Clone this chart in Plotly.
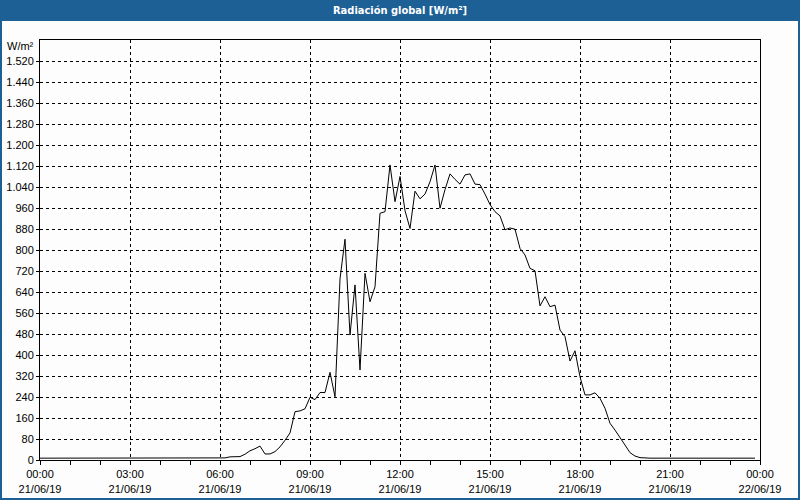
import pandas as pd
import plotly.graph_objects as go

title_text = "Radiación global [W/m²]"
unit_label = "W/m²"

# 10-minute values, 21/06/19 00:00 .. 23:50 (W/m²)
radiation = [
    7, 7, 7, 7, 7, 7,            # 00
    7, 7, 7, 7, 7, 7,            # 01
    7, 7, 7, 7, 7, 7,            # 02
    7, 7, 7, 7, 7, 7,            # 03
    7, 7, 7, 7, 7, 7,            # 04
    7, 7, 7, 7, 7, 7,            # 05
    7, 8, 12, 12, 13, 22,        # 06
    35, 43, 53, 23, 23, 32,      # 07
    50, 75, 103, 184, 187, 195,  # 08
    239, 230, 257, 257, 334, 241,  # 09
    690, 841, 476, 667, 343, 711,  # 10
    603, 660, 940, 946, 1124, 984,  # 11
    1080, 950, 882, 1024, 995, 1013,  # 12
    1060, 1124, 959, 1030, 1090, 1069,  # 13
    1051, 1086, 1090, 1051, 1049, 1013,  # 14
    973, 946, 930, 877, 884, 879,  # 15
    806, 781, 730, 721, 587, 622,  # 16
    584, 590, 495, 470, 377, 416,  # 17
    317, 248, 248, 256, 235, 197,  # 18
    140, 114, 83, 57, 28, 15,    # 19
    9, 7, 7, 7, 7, 7,            # 20
    7, 7, 7, 7, 7, 7,            # 21
    7, 7, 7, 7, 7, 7,            # 22
    7, 7, 7, 7, 7, 7,            # 23
]
times = pd.date_range("2019-06-21 00:00", periods=len(radiation), freq="10min")

x_tick_times = pd.date_range("2019-06-21 00:00", "2019-06-22 00:00", freq="3h")
x_tick_text = [t.strftime("%H:%M") + "<br>" + t.strftime("%d/%m/%y") for t in x_tick_times]

y_tick_vals = list(range(0, 1600, 80))


def fmt(v):
    return f"{v:,}".replace(",", ".")


y_tick_text = [fmt(v) for v in y_tick_vals]

W, H = 800, 500
ML, MR, MT, MB = 40, 40, 40, 40
PW, PH = W - ML - MR, H - MT - MB


def px_x(p):
    return (p - ML) / PW


def px_y(p):
    return (H - MB - p) / PH


BLUE = "#1d6096"
FONT = "Liberation Sans, Arial, sans-serif"
TITLE_FONT = "DejaVu Sans Condensed, Liberation Sans Narrow, Liberation Sans, sans-serif"

fig = go.Figure()
fig.add_trace(go.Scatter(
    x=times, y=radiation, mode="lines",
    line=dict(color="black", width=1), hoverinfo="skip", showlegend=False,
))

fig.update_layout(
    width=W, height=H,
    margin=dict(l=ML, r=MR, t=MT, b=MB, autoexpand=False),
    paper_bgcolor="#fcfdfc",
    plot_bgcolor="#fcfdfc",
    font=dict(family=FONT, size=11, color="black"),
    showlegend=False,
)

fig.update_xaxes(
    range=[x_tick_times[0], x_tick_times[-1]],
    tickvals=x_tick_times, ticktext=x_tick_text,
    showgrid=True, gridcolor="black", gridwidth=1, griddash="3px,3px",
    showline=True, linecolor="black", linewidth=1, mirror=True,
    ticks="outside", ticklen=4, tickcolor="black",
    minor=dict(dtick=3600000, ticks="outside", ticklen=4, tickcolor="black", showgrid=False),
    zeroline=False, tickangle=0, automargin=False,
    tickfont=dict(family=FONT, size=11, color="black"),
)
fig.update_yaxes(
    range=[0, 1600],
    tickvals=y_tick_vals, ticktext=y_tick_text,
    showgrid=True, gridcolor="black", gridwidth=1, griddash="3px,3px",
    showline=True, linecolor="black", linewidth=1, mirror=True,
    ticks="outside", ticklen=3, tickcolor="black",
    zeroline=False, automargin=False,
    tickfont=dict(family=FONT, size=11, color="black"),
)

# title bar
fig.add_shape(type="rect", xref="paper", yref="paper",
              x0=px_x(0), x1=px_x(W), y0=px_y(21), y1=px_y(0),
              fillcolor=BLUE, line=dict(width=0), layer="below")
# outer border
fig.add_shape(type="rect", xref="paper", yref="paper",
              x0=px_x(1), x1=px_x(W - 1), y0=px_y(H - 1), y1=px_y(1),
              fillcolor="rgba(0,0,0,0)", line=dict(color=BLUE, width=2))

fig.add_annotation(text="<b>" + title_text + "</b>", xref="paper", yref="paper",
                   x=px_x(W / 2), y=px_y(10.5), xanchor="center", yanchor="middle",
                   showarrow=False, font=dict(family=TITLE_FONT, size=11, color="white"))
fig.add_annotation(text=unit_label, xref="paper", yref="paper",
                   x=px_x(36), y=px_y(46), xanchor="right", yanchor="middle",
                   showarrow=False, font=dict(family=FONT, size=11, color="black"))

fig.write_html("out.html")
